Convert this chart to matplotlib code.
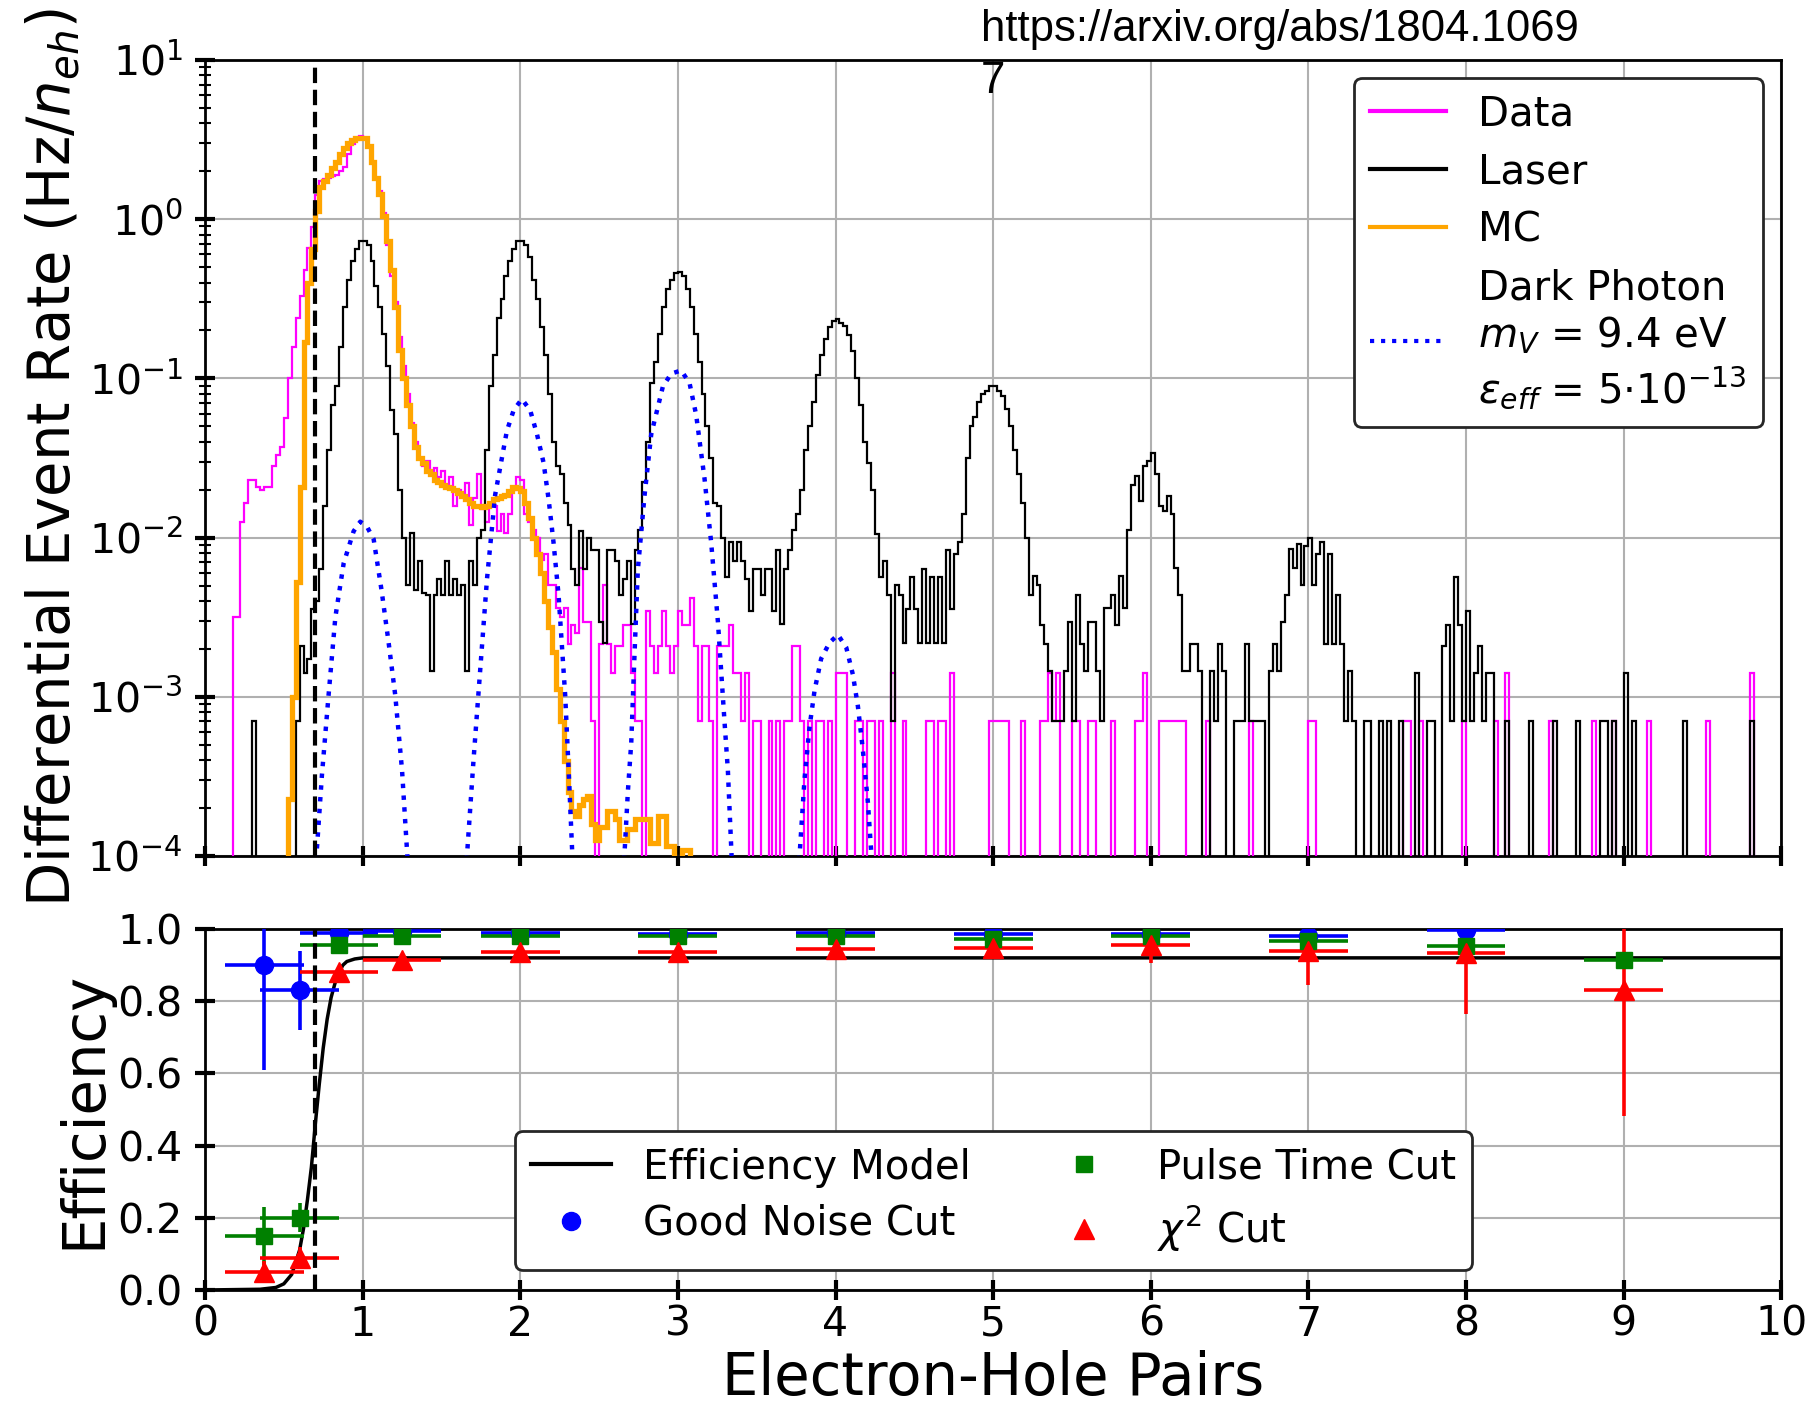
import numpy as np
import matplotlib
matplotlib.use('Agg')
import matplotlib.pyplot as plt
from matplotlib.lines import Line2D

N = None

# histogram binning (electron-hole pairs), 40 bins per pair
edges = np.linspace(0, 10, 401)

# log10 of rate (Hz/n_eh) per bin, one row per unit of x, None = empty bin
laser_log = [
    [N]*12 + [-3.15] + [N]*10 + [-3.15, -2.68, -2.85, -2.76, -2.45, -2.4, -2.2, -1.8, -1.45, -1.17,
                                 -1.05, -0.8, -0.55, -0.38, -0.26, -0.19, -0.14],
    [-0.14, -0.16, -0.26, -0.42, -0.55, -0.72, -0.92, -1.2, -1.35, -1.7,
     -2.0, -2.3, -1.97, -2.33, -2.15, -2.35, -2.36, -2.84, -2.36, -2.26,
     -2.36, -2.15, -2.36, -2.26, -2.36, -2.3, -2.84, -2.15, -2.3, -2.0,
     -1.95, -1.45, -1.05, -0.85, -0.62, -0.5, -0.36, -0.26, -0.19, -0.14],
    [-0.14, -0.16, -0.24, -0.38, -0.5, -0.68, -0.85, -1.1, -1.4, -1.55,
     -1.6, -1.78, -1.92, -2.2, -2.3, -1.96, -2.2, -2.0, -2.08, -2.08,
     -2.53, -2.66, -2.08, -2.08, -2.15, -2.36, -2.26, -2.15, -2.54, -2.08,
     -1.95, -1.65, -1.4, -1.03, -0.9, -0.72, -0.55, -0.44, -0.38, -0.34],
    [-0.33, -0.36, -0.44, -0.55, -0.72, -0.9, -1.1, -1.3, -1.5, -1.78,
     -1.8, -2.0, -2.25, -2.03, -2.15, -2.03, -2.15, -2.26, -2.46, -2.2,
     -2.2, -2.36, -2.2, -2.2, -2.46, -2.08, -2.54, -2.2, -2.08, -1.95,
     -1.85, -1.7, -1.45, -1.3, -1.15, -0.98, -0.85, -0.75, -0.68, -0.64],
    [-0.63, -0.65, -0.67, -0.73, -0.83, -1.0, -1.17, -1.4, -1.53, -1.7,
     -1.98, -2.25, -2.15, -2.36, -3.15, -2.3, -2.36, -2.66, -2.45, -2.25,
     -2.45, -2.66, -2.2, -2.66, -2.25, -2.66, -2.25, -2.66, -2.08, -2.45,
     -2.1, -2.03, -1.85, -1.5, -1.3, -1.24, -1.15, -1.1, -1.08, -1.05],
    [-1.05, -1.08, -1.11, -1.19, -1.3, -1.45, -1.6, -1.78, -2.0, -2.36,
     -2.24, -2.3, -2.55, -2.67, -2.84, -3.15, -3.15, -3.15, -2.84, -2.53,
     -3.15, -2.36, -2.67, -2.84, -2.53, -2.53, -2.84, -3.15, -2.44, -2.44,
     -2.36, -2.55, -2.24, -2.44, -1.95, -1.67, -1.61, -1.77, -1.55, -1.52],
    [-1.47, -1.6, -1.8, -1.83, -1.74, -1.85, -2.19, -2.36, -2.84, -2.84,
     -2.67, -2.67, -2.84, N, N, -2.84, -3.15, -2.67, -2.84, N,
     N, -3.15, -3.15, -3.15, -2.67, -3.15, -3.15, -3.15, -3.15, N,
     -2.84, -2.67, -2.84, -2.53, -2.36, -2.07, -2.19, -2.04, -2.3, -2.05],
    [-2.0, -2.3, -2.1, -2.03, -2.67, -2.1, -2.67, -2.36, -2.67, -3.15,
     -2.84, -3.15, N, N, -3.15, -3.15, N, N, -3.15, N,
     -3.15, N, N, -3.15, N, N, N, -2.85, N, N,
     -3.15, -3.15, N, N, -2.68, -2.55, -3.15, -2.25, -2.55, -3.15],
    [-2.46, -3.15, -2.85, -2.68, -3.15, -2.85, -2.85] + [N]*3 + [-3.15] + [N]*5 + [-3.15] + [N]*5
    + [-3.15] + [N]*5 + [-3.15] + [N]*5 + [-3.15, -3.15, N, -3.15, N, N],
    [-2.85, N, -3.15] + [N]*12 + [-3.15] + [N]*16 + [-3.15] + [N]*7,
]

data_log = [
    [N]*7 + [-2.5, -2.5, -1.9, -1.78, -1.64, -1.64, -1.68, -1.7, -1.68, -1.68,
             -1.55, -1.48, -1.43, -1.25, -1.0, -0.8, -0.62, -0.48, -0.32, -0.18,
             -0.05, 0.15, 0.24, 0.25, 0.26, 0.27, 0.28, 0.3, 0.33, 0.41,
             0.47, 0.5, 0.52],
    [0.51, 0.46, 0.36, 0.26, 0.18, 0.04, -0.16, -0.36, -0.52, -0.74,
     -0.92, -1.1, -1.28, -1.4, -1.5, -1.55, -1.52, -1.6, -1.56, -1.62,
     -1.58, -1.68, -1.62, -1.8, -1.7, -1.72, -1.66, -1.92, -1.75, -1.6,
     -1.82, -1.9, -1.78, -1.8, -1.96, -1.85, -1.97, -1.85, -1.7, -1.62],
    [-1.64, -1.85, -1.9, -1.95, -2.0, -2.14, -2.1, -2.3, -2.3, -2.44,
     -2.5, -2.44, -2.67, -2.55, -2.6, -2.19, -2.53, -2.53, -3.15, N,
     -2.67, -2.3, -2.67, -2.85, -2.68, -2.68, -2.55, -2.55, -2.85, -3.15,
     -3.15, N, -2.46, -2.68, -2.85, -2.68, -2.46, -2.68, -2.85, -2.68],
    [-2.46, -2.55, -2.55, -2.38, -2.68, -3.15, -2.68, -2.68, -3.15, N,
     -2.68, -2.68, -2.68, -2.55, -2.85, -2.85, -3.15, -2.85, N, -3.15,
     -3.15, N, N, -3.15, N, -3.15, N, -3.15, -3.15, -2.68,
     -2.68, -3.15, N, -3.15, N, -3.15, -3.15, N, -3.15, N],
    [-2.85, -2.85, -2.85, N, N, -3.15, -3.15, N, -3.15, -3.15,
     N, -3.15, N, N, -2.85, N, N, -3.15, N, N,
     N, N, N, -3.15, -3.15, N, -3.15, -3.15, N, -2.85,
     N, N, N, N, N, N, N, N, N, -3.15],
    [-3.15, -3.15, -3.15, -3.15, N, N, N, -3.15, N, N,
     N, N, -3.15, -3.15, -2.85, -3.15, -2.85, N, N, N,
     -3.15, -3.15, N, N, -3.15, -3.15, N, N, N, N,
     -3.15, N, N, N, N, N, -3.15, -3.15, -2.85, N],
    [N, N] + [-3.15]*7 + [N]*5 + [-3.15] + [N]*10 + [-3.15] + [N]*14,
    [-3.15, -3.15] + [N]*22 + [-3.15, -3.15, N, N, -3.15] + [N]*10 + [-3.15],
    [N]*7 + [-3.15, N, N, -2.85] + [N]*10 + [-3.15] + [N]*10 + [-3.15] + [N]*4 + [-3.15, N, N],
    [N]*6 + [-3.15] + [N]*14 + [-3.15] + [N]*10 + [-2.85] + [N]*7,
]

mc_log = [
    [N]*21 + [-3.64, -3.0, -2.28, -1.68, -0.77, -0.4, -0.19, 0.05, 0.2, 0.24,
              0.28, 0.32, 0.36, 0.41, 0.45, 0.48, 0.5, 0.51, 0.51],
    [0.51, 0.46, 0.36, 0.26, 0.16, 0.02, -0.14, -0.32, -0.55, -0.82,
     -1.0, -1.17, -1.3, -1.43, -1.5, -1.53, -1.58, -1.6, -1.64, -1.65,
     -1.67, -1.68, -1.69, -1.7, -1.72, -1.74, -1.76, -1.78, -1.8, -1.8,
     -1.81, -1.8, -1.78, -1.76, -1.75, -1.74, -1.73, -1.71, -1.68, -1.69],
    [-1.71, -1.78, -1.88, -2.0, -2.1, -2.22, -2.4, -2.56, -2.72, -2.95,
     -3.15, -3.4, -3.6, -3.72, -3.75, -3.68, -3.64, -3.62, -3.8, -3.9,
     -3.82, -3.82, -3.72, -3.72, -3.77, -3.9, -3.9, -3.83, -3.83, -3.77,
     -3.77, -3.77, -3.77, -3.92, -3.92, -3.75, -3.75, -3.94, -3.94, N],
    [N, -3.96, -3.96] + [N]*37,
] + [[N]*40]*6

# dark photon signal curve (x, log10 rate), NaN separates the peaks
dp_x = [0.70, 0.742, 0.784, 0.827, 0.88, 0.943, 0.985, 1.027, 1.07, 1.12, 1.165, 1.207, 1.25, 1.29, np.nan,
        1.655, 1.704, 1.746, 1.789, 1.841, 1.915, 1.958, 2.01, 2.063, 2.106, 2.148, 2.18, 2.211, 2.243,
        2.285, 2.307, 2.335, np.nan,
        2.655, 2.683, 2.704, 2.725, 2.746, 2.789, 2.831, 2.905, 2.958, 3.021, 3.074, 3.116, 3.169, 3.211,
        3.254, 3.296, 3.317, 3.345, np.nan,
        3.765, 3.803, 3.835, 3.867, 3.909, 3.962, 4.015, 4.068, 4.11, 4.142, 4.173, 4.205, 4.235]
dp_log = [-4.1, -3.49, -2.99, -2.5, -2.16, -1.96, -1.9, -1.93, -2.01, -2.33, -2.66, -2.99, -3.46, -4.1, np.nan,
          -4.1, -3.39, -2.83, -2.26, -1.73, -1.33, -1.2, -1.13, -1.2, -1.35, -1.53, -1.76, -2.03, -2.36,
          -2.99, -3.46, -4.1, np.nan,
          -4.1, -3.59, -3.29, -2.73, -2.2, -1.73, -1.35, -1.05, -0.97, -0.95, -1.03, -1.23, -1.63, -2.03,
          -2.53, -3.16, -3.46, -4.1, np.nan,
          -4.1, -3.52, -3.19, -2.96, -2.76, -2.66, -2.61, -2.69, -2.86, -3.06, -3.33, -3.66, -4.1]

# efficiency model curve
model_x = [0.0, 0.35, 0.45, 0.5, 0.55, 0.6, 0.625, 0.65, 0.675, 0.7, 0.725, 0.75, 0.775, 0.8,
           0.825, 0.85, 0.875, 0.9, 0.95, 1.0, 1.1, 10.0]
model_y = [0.0, 0.002, 0.007, 0.017, 0.043, 0.11, 0.17, 0.25, 0.34, 0.46, 0.57, 0.67, 0.75, 0.81,
           0.85, 0.88, 0.90, 0.91, 0.917, 0.92, 0.92, 0.92]

# cut efficiencies
eff_x = [0.375, 0.6, 0.85, 1.25, 2, 3, 4, 5, 6, 7, 8, 9]
eff_xerr = [0.25] * 12
noise_y = [0.90, 0.83, 0.99, 0.995, 0.99, 0.987, 0.99, 0.985, 0.986, 0.98, 0.998]
noise_yerr = [0.29, 0.11, 0.01, 0.005, 0.005, 0.005, 0.006, 0.006, 0.006, 0.008, 0.01]
ptime_y = [0.15, 0.20, 0.957, 0.98, 0.98, 0.98, 0.98, 0.972, 0.98, 0.966, 0.952, 0.915]
ptime_yerr = [0.08, 0.04, 0.01, 0.008, 0.008, 0.008, 0.008, 0.008, 0.008, 0.01, 0.015, 0.02]
chi2_y = [0.05, 0.09, 0.88, 0.915, 0.935, 0.936, 0.945, 0.947, 0.955, 0.94, 0.934, 0.832]
chi2_yerr = [0.03, 0.03, 0.01, 0.01, 0.01, 0.01, 0.01, 0.01, 0.05, 0.095, 0.17, 0.35]

threshold = 0.7


def to_rate(rows):
    a = np.array(sum(rows, []), dtype=float)
    return np.where(np.isnan(a), 1e-7, 10 ** a)


fig = plt.figure(figsize=(18.14, 14.14), dpi=100)
ax1 = fig.add_axes([0.113, 0.3946, 0.869, 0.563])
ax2 = fig.add_axes([0.113, 0.0877, 0.869, 0.2553])

ax1.stairs(to_rate(data_log), edges, baseline=None, color='magenta', lw=1.6, zorder=3)
ax1.stairs(to_rate(laser_log), edges, baseline=None, color='black', lw=1.6, zorder=4)
ax1.stairs(to_rate(mc_log), edges, baseline=None, color='orange', lw=3.8, zorder=5)
ax1.plot(dp_x, 10 ** np.array(dp_log), ':', color='blue', lw=3.2, zorder=6)
ax1.axvline(threshold, color='k', ls='--', lw=3, zorder=7)

ax1.set_yscale('log')
ax1.set_ylim(1e-4, 10)
ax1.set_xlim(0, 10)
ax1.set_xticks(range(11))
ax1.tick_params(labelbottom=False)
ax1.set_ylabel('Differential Event Rate (Hz/$n_{eh}$)', fontsize=41.5)

handles = [Line2D([], [], color='magenta', lw=3),
           Line2D([], [], color='black', lw=3),
           Line2D([], [], color='orange', lw=3),
           Line2D([], [], color='blue', lw=3, ls=':')]
labels = ['Data', 'Laser', 'MC',
          'Dark Photon\n$m_V$ = 9.4 eV\n$\\varepsilon_{eff}$ = 5$\\cdot$10$^{-13}$']
leg = ax1.legend(handles, labels, loc='upper right', fontsize=29, handlelength=1.9,
                 framealpha=1, edgecolor='0.15', borderaxespad=0.45, labelspacing=0.45)
leg.get_frame().set_linewidth(2)

# efficiency panel
ax2.plot(model_x, model_y, color='black', lw=2.5, zorder=3)
ekw = dict(ls='none', elinewidth=2.6, capsize=0, zorder=4)
ax2.errorbar(eff_x[:11], noise_y, xerr=eff_xerr[:11], yerr=noise_yerr, marker='o', ms=13,
             color='blue', **ekw)
ax2.errorbar(eff_x, ptime_y, xerr=eff_xerr, yerr=ptime_yerr, marker='s', ms=12,
             color='green', **ekw)
ax2.errorbar(eff_x, chi2_y, xerr=eff_xerr, yerr=chi2_yerr, marker='^', ms=14,
             color='red', **ekw)
ax2.axvline(threshold, color='k', ls='--', lw=3, zorder=5)
ax2.set_xlim(0, 10)
ax2.set_ylim(0, 1)
ax2.set_xticks(range(11))
ax2.set_yticks(np.arange(0, 1.01, 0.2))
ax2.set_yticklabels(['%.1f' % v for v in np.arange(0, 1.01, 0.2)])
ax2.set_ylabel('Efficiency', fontsize=41.5)
ax2.set_xlabel('Electron-Hole Pairs', fontsize=41.5)

handles2 = [Line2D([], [], color='black', lw=3),
            Line2D([], [], ls='none', marker='o', ms=13, color='blue'),
            Line2D([], [], ls='none', marker='s', ms=12, color='green'),
            Line2D([], [], ls='none', marker='^', ms=14, color='red')]
labels2 = ['Efficiency Model', 'Good Noise Cut', 'Pulse Time Cut', '$\\chi^2$ Cut']
leg2 = ax2.legend(handles2, labels2, loc='lower center', bbox_to_anchor=(0.5, 0.0), ncol=2,
                  fontsize=29, handlelength=2.0, columnspacing=1.8, labelspacing=0.4,
                  framealpha=1, edgecolor='0.15')
leg2.get_frame().set_linewidth(2)

for ax in (ax1, ax2):
    ax.grid(True, color='#b0b0b0', lw=1.5)
    ax.set_axisbelow(True)
    ax.tick_params(which='major', direction='inout', length=14, width=3, labelsize=29.5)
    ax.tick_params(which='minor', direction='inout', length=8, width=1.5)
    ax.tick_params(axis='y', which='major', pad=9)
    for s in ax.spines.values():
        s.set_linewidth(2)

# source link, wrapped onto a second line as in the original
fig.text(981 / 1814, 1 - 9 / 1414, 'https://arxiv.org/abs/1804.1069',
         family='Liberation Sans', fontsize=31.5, va='top', ha='left')
fig.text(981 / 1814, 1 - 61 / 1414, '7',
         family='Liberation Sans', fontsize=31.5, va='top', ha='left')

fig.savefig('out.png', dpi=100)
